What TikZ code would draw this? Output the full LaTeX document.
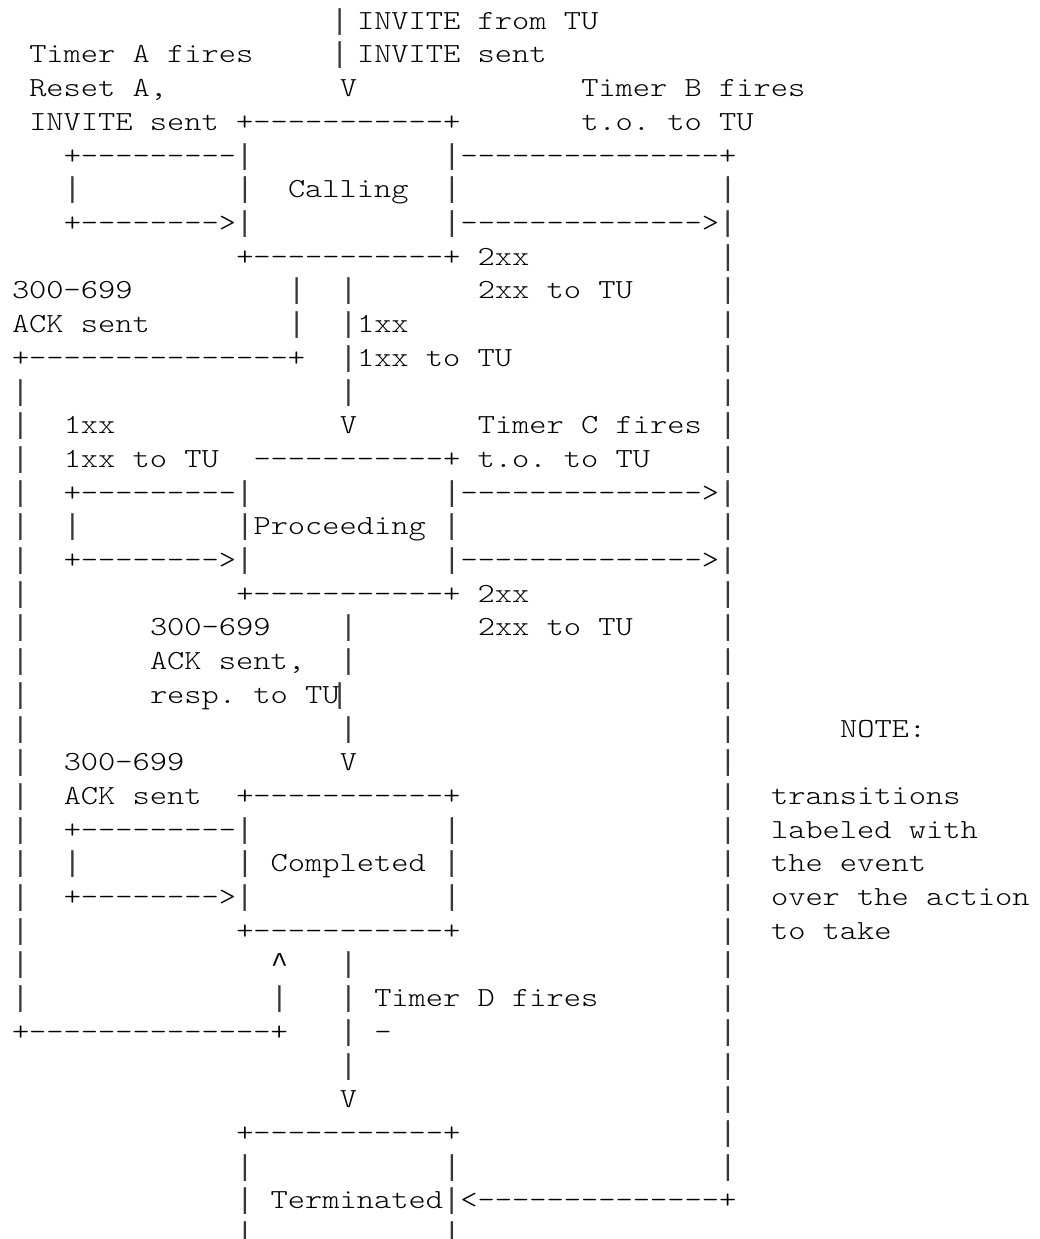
\documentclass[tikz,border=0pt]{standalone}
\usepackage{fontspec}
\setmonofont{lmmonolt10-regular.otf}[FakeStretch=1.19]
\newfontfamily\barfont{Liberation Mono}
\frenchspacing
% one text cell of the character grid: name, column, row, text
\newcommand\asciicell[4]{\node[asc] (#1) at (#2,#3) {#4};}
% long vertical bar and caret, one grid cell wide
\newcommand\vb{\makebox[8.625pt]{\barfont\fontsize{14.375pt}{16.85pt}\selectfont\color{black!78}|}}
\newcommand\crt{\makebox[8.625pt]{\barfont\fontsize{14.375pt}{16.85pt}\selectfont\textasciicircum}}
\begin{document}
\begin{tikzpicture}[
  x=8.625pt, y=-16.85pt,
  asc/.style={font=\ttfamily\fontsize{13.8pt}{16.85pt}\selectfont,
              inner sep=0pt, outer sep=0pt, anchor=base west, text=black},
  ascmid/.style={asc, anchor=base}
]
\fill[white] (-0.6957,0.1306) rectangle (59.536,36.896);
\useasboundingbox (-0.6957,0.1306) rectangle (59.536,36.896);

% entry into Calling
\node[ascmid] (inpipeA) at (19.0,1) {\vb};
\asciicell{invfrom}{20}{1}{INVITE from TU}
\asciicell{timerA}{1}{2}{Timer A fires}
\node[ascmid] (inpipeB) at (19.0,2) {\vb};
\asciicell{invsent}{20}{2}{INVITE sent}
\asciicell{resetA}{1}{3}{Reset A,}
\asciicell{inarrow}{19}{3}{V}
\asciicell{timerB}{33}{3}{Timer B fires}
\asciicell{invsentb}{1}{4}{INVITE sent +-----------+}
\asciicell{toB}{33}{4}{t.o. to TU}

% Calling state
\asciicell{callloopt}{3}{5}{+---------\vb}
\asciicell{calltB}{25}{5}{\vb---------------+}
\asciicell{callloopl}{3}{6}{\vb}
\asciicell{callL}{13}{6}{\vb}
\asciicell{calling}{16}{6}{Calling}
\asciicell{callR}{25}{6}{\vb}
\asciicell{rail6}{41}{6}{\vb}
\asciicell{callloopb}{3}{7}{+-------->\vb}
\asciicell{call2xx}{25}{7}{\vb-------------->\vb}
\asciicell{callbot}{13}{8}{+-----------+ 2xx}
\asciicell{rail8}{41}{8}{\vb}

% Calling -> Proceeding / Completed
\asciicell{c300}{0}{9}{300-699}
\asciicell{cpipe9}{16}{9}{\vb}
\asciicell{c1pipe9}{19}{9}{\vb}
\asciicell{c2xxtu}{27}{9}{2xx to TU}
\asciicell{rail9}{41}{9}{\vb}
\asciicell{cack}{0}{10}{ACK sent}
\asciicell{cpipe10}{16}{10}{\vb}
\asciicell{c1xx}{19}{10}{\vb 1xx}
\asciicell{rail10}{41}{10}{\vb}
\asciicell{cret}{0}{11}{+---------------+}
\asciicell{c1xxtu}{19}{11}{\vb 1xx to TU}
\asciicell{rail11}{41}{11}{\vb}
\asciicell{lrail12}{0}{12}{\vb}
\asciicell{c1pipe12}{19}{12}{\vb}
\asciicell{rail12}{41}{12}{\vb}
\asciicell{lrail13}{0}{13}{\vb}
\asciicell{p1xx}{3}{13}{1xx}
\asciicell{procarrow}{19}{13}{V}
\asciicell{timerC}{27}{13}{Timer C fires}
\asciicell{rail13}{41}{13}{\vb}
\asciicell{lrail14}{0}{14}{\vb}
\asciicell{p1xxtu}{3}{14}{1xx to TU}
\asciicell{proctop}{14}{14}{-----------+ t.o. to TU}
\asciicell{rail14}{41}{14}{\vb}

% Proceeding state
\asciicell{lrail15}{0}{15}{\vb}
\asciicell{procloopt}{3}{15}{+---------\vb}
\asciicell{procC}{25}{15}{\vb-------------->\vb}
\asciicell{lrail16}{0}{16}{\vb}
\asciicell{procloopl}{3}{16}{\vb}
\asciicell{proceeding}{13}{16}{\vb Proceeding \vb}
\asciicell{rail16}{41}{16}{\vb}
\asciicell{lrail17}{0}{17}{\vb}
\asciicell{procloopb}{3}{17}{+-------->\vb}
\asciicell{proc2xx}{25}{17}{\vb-------------->\vb}
\asciicell{lrail18}{0}{18}{\vb}
\asciicell{procbot}{13}{18}{+-----------+ 2xx}
\asciicell{rail18}{41}{18}{\vb}

% Proceeding -> Completed
\asciicell{lrail19}{0}{19}{\vb}
\asciicell{p300}{8}{19}{300-699}
\asciicell{ppipe19}{19}{19}{\vb}
\asciicell{p2xxtu}{27}{19}{2xx to TU}
\asciicell{rail19}{41}{19}{\vb}
\asciicell{lrail20}{0}{20}{\vb}
\asciicell{pack}{8}{20}{ACK sent,}
\asciicell{ppipe20}{19}{20}{\vb}
\asciicell{rail20}{41}{20}{\vb}
\asciicell{lrail21}{0}{21}{\vb}
\asciicell{presp}{8}{21}{resp. to TU}
\node[ascmid] (ppipe21) at (19.0,21) {\vb};
\asciicell{rail21}{41}{21}{\vb}
\asciicell{lrail22}{0}{22}{\vb}
\asciicell{ppipe22}{19}{22}{\vb}
\asciicell{rail22}{41}{22}{\vb}
\asciicell{note}{48}{22}{NOTE:}
\asciicell{lrail23}{0}{23}{\vb}
\asciicell{k300}{3}{23}{300-699}
\asciicell{comparrow}{19}{23}{V}
\asciicell{rail23}{41}{23}{\vb}

% Completed state
\asciicell{lrail24}{0}{24}{\vb}
\asciicell{kack}{3}{24}{ACK sent}
\asciicell{comptop}{13}{24}{+-----------+}
\asciicell{rail24}{41}{24}{\vb}
\asciicell{note1}{44}{24}{transitions}
\asciicell{lrail25}{0}{25}{\vb}
\asciicell{comploopt}{3}{25}{+---------\vb}
\asciicell{compR25}{25}{25}{\vb}
\asciicell{rail25}{41}{25}{\vb}
\asciicell{note2}{44}{25}{labeled with}
\asciicell{lrail26}{0}{26}{\vb}
\asciicell{comploopl}{3}{26}{\vb}
\asciicell{completed}{13}{26}{\vb{} Completed \vb}
\asciicell{rail26}{41}{26}{\vb}
\asciicell{note3}{44}{26}{the event}
\asciicell{lrail27}{0}{27}{\vb}
\asciicell{comploopb}{3}{27}{+-------->\vb}
\asciicell{compR27}{25}{27}{\vb}
\asciicell{rail27}{41}{27}{\vb}
\asciicell{note4}{44}{27}{over the action}
\asciicell{lrail28}{0}{28}{\vb}
\asciicell{compbot}{13}{28}{+-----------+}
\asciicell{rail28}{41}{28}{\vb}
\asciicell{note5}{44}{28}{to take}

% Completed -> Terminated
\asciicell{lrail29}{0}{29}{\vb}
\asciicell{retarrow}{15}{29}{\crt}
\asciicell{dpipe29}{19}{29}{\vb}
\asciicell{rail29}{41}{29}{\vb}
\asciicell{lrail30}{0}{30}{\vb}
\asciicell{retpipe30}{15}{30}{\vb}
\asciicell{timerD}{19}{30}{\vb{} Timer D fires}
\asciicell{rail30}{41}{30}{\vb}
\asciicell{lret}{0}{31}{+--------------+}
\asciicell{dnone}{19}{31}{\vb{} -}
\asciicell{rail31}{41}{31}{\vb}
\asciicell{dpipe32}{19}{32}{\vb}
\asciicell{rail32}{41}{32}{\vb}
\asciicell{termarrow}{19}{33}{V}
\asciicell{rail33}{41}{33}{\vb}

% Terminated state
\asciicell{termtop}{13}{34}{+-----------+}
\asciicell{rail34}{41}{34}{\vb}
\asciicell{termL35}{13}{35}{\vb}
\asciicell{termR35}{25}{35}{\vb}
\asciicell{rail35}{41}{35}{\vb}
\asciicell{terminated}{13}{36}{\vb{} Terminated\vb<--------------+}
\asciicell{termL37}{13}{37}{\vb}
\asciicell{termR37}{25}{37}{\vb}
\end{tikzpicture}
\end{document}
